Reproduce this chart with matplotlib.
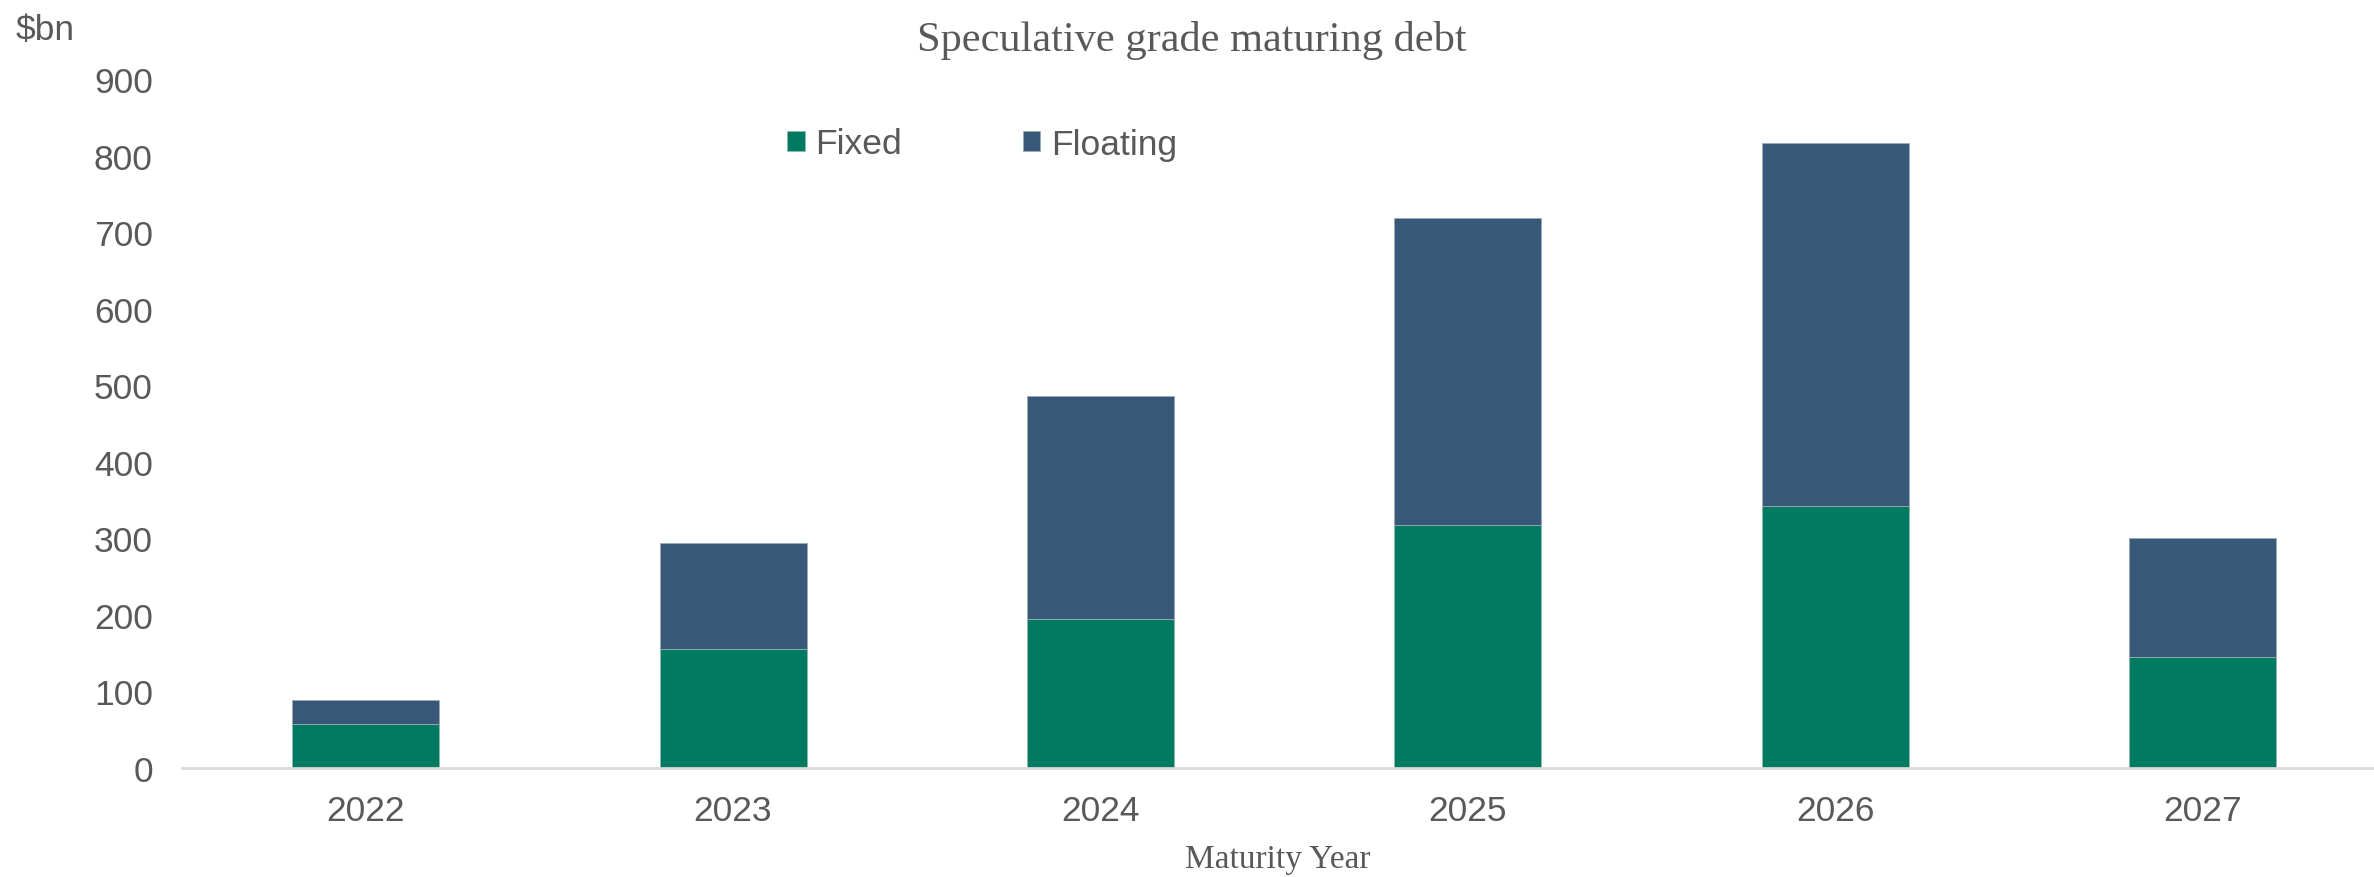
import matplotlib.pyplot as plt

# Дані: роки погашення та обсяги боргу ($bn)
years = ["2022", "2023", "2024", "2025", "2026", "2027"]
fixed = [57, 156, 195, 318, 342, 145]
floating = [32, 138, 291, 401, 475, 155]

green = "#007A60"
blue = "#375876"
grey = "#595959"

fig = plt.figure(figsize=(23.74, 8.78), dpi=100)
ax = fig.add_axes([182 / 2374, 109 / 878, 1 - 182 / 2374, 689 / 878])

x = range(len(years))
ax.bar(x, fixed, width=0.4, color=green, edgecolor="#8fb8ad", linewidth=0.6, label="Fixed")
ax.bar(x, floating, width=0.4, bottom=fixed, color=blue, edgecolor="#9aaabb",
       linewidth=0.6, label="Floating")

ax.set_xlim(-0.5, 5.467)
ax.set_ylim(0, 900)
ax.set_yticks(range(0, 901, 100))
ax.set_xticks(list(x))
ax.set_xticklabels(years)

for side in ["top", "right", "left"]:
    ax.spines[side].set_visible(False)
ax.spines["bottom"].set_color("#d9d9d9")
ax.spines["bottom"].set_linewidth(2)

ax.tick_params(axis="both", length=0, labelsize=25.5, labelcolor=grey)
ax.tick_params(axis="y", pad=21)
ax.tick_params(axis="x", pad=19)
for lbl in ax.get_xticklabels() + ax.get_yticklabels():
    lbl.set_family("Liberation Sans")

# Заголовок і підписи
fig.text(1192 / 2374, 1 - 41 / 878, "Speculative grade maturing debt",
         family="Liberation Serif", fontsize=30.5, color=grey, ha="center", va="center")
fig.text(1278 / 2374, 1 - 868 / 878, "Maturity Year",
         family="Liberation Serif", fontsize=24, color=grey, ha="center", va="baseline")
fig.text(16 / 2374, 1 - 31 / 878, r"\$bn",
         family="Liberation Sans", fontsize=25.5, color=grey, ha="left", va="center")

leg = fig.legend(loc="center left", bbox_to_anchor=(787 / 2374, 1 - 145 / 878),
                 ncol=2, frameon=False, borderpad=0, borderaxespad=0,
                 handlelength=0.5, handleheight=0.5, handletextpad=0.3,
                 columnspacing=3.4, prop={"family": "Liberation Sans", "size": 25.5})
for t in leg.get_texts():
    t.set_color(grey)

fig.savefig("out.png", dpi=100)
